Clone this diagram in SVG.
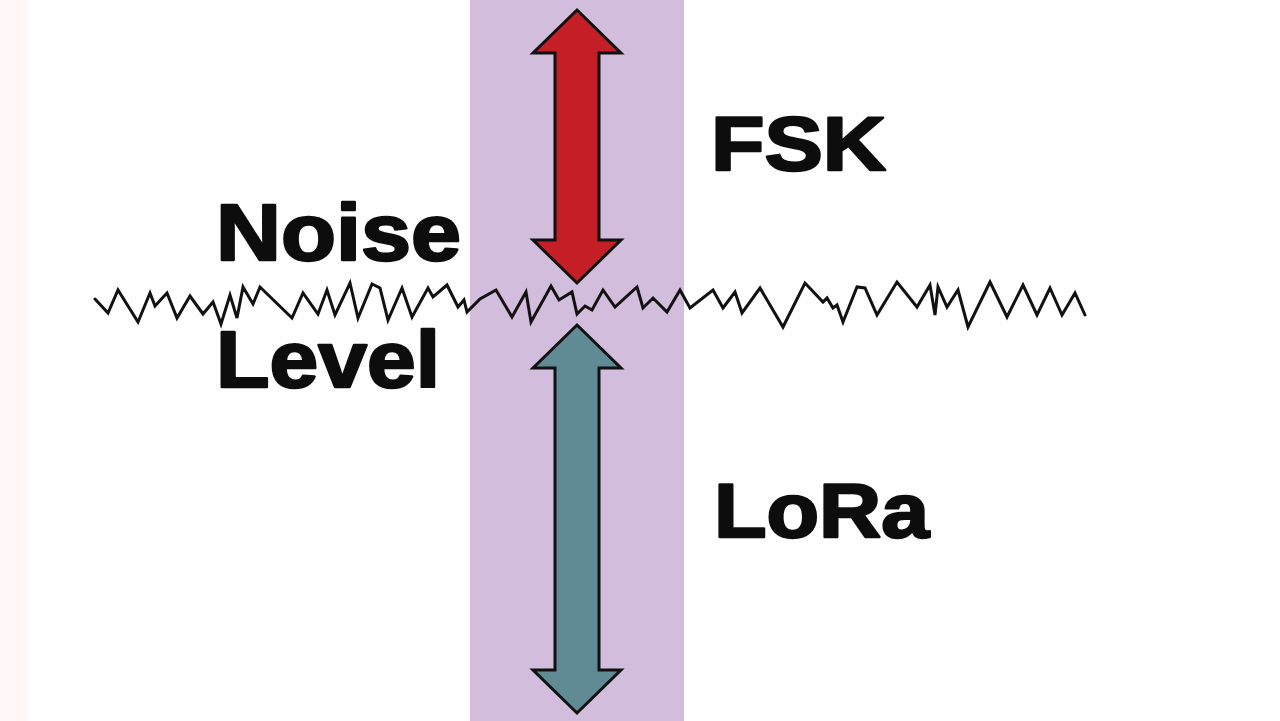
<svg xmlns="http://www.w3.org/2000/svg" width="1280" height="721" viewBox="0 0 1280 721">
  <style>
    .lbl { font-family: "Liberation Sans", Arial, sans-serif; font-weight: bold; fill: #0d0d0d; stroke: #0d0d0d; stroke-width: 2.4; stroke-linejoin: round; }
    .arrow { stroke: #111; stroke-width: 3; stroke-linejoin: miter; }
    .noise { fill: none; stroke: #111; stroke-width: 3; stroke-linejoin: miter; stroke-linecap: round; }
  </style>
  <rect x="0" y="0" width="1280" height="721" fill="#fefefe"/>
  <rect x="0" y="0" width="27" height="721" fill="#fff8f6"/>
  <g id="band">
    <rect x="470" y="0" width="214" height="721" fill="#d3bddc"/>
  </g>
  <g id="noise-line">
    <polyline class="noise" points="95,299 108,313 118,290 138,322 150,293 155,306 167,293 177,318 190,296 203,314 213,302 221,324 230,295 237,318 243,287 253,304 260,287 292,318 303,293 318,314 327,290 335,315 350,283 358,318 372,284 380,288 388,320 402,288 412,317 428,288 433,297 447,285 458,307 464,300 467,312 480,299 496,290 512,317 526,292 531,322 551,286 559,300 572,292 577,314 585,306 592,310 603,290 615,307 637,287 643,308 653,298 667,312 680,290 690,308 713,290 723,308 735,292 742,313 760,288 770,305 783,327 805,283 823,302 827,298 833,308 837,305 843,322 857,287 865,288 877,315 897,282 917,307 930,285 935,315 938,287 947,307 958,290 968,327 990,282 1007,317 1023,285 1037,315 1050,288 1062,315 1075,293 1085,315"/>
  </g>
  <g id="connectors">
    <polygon id="fsk-arrow" class="arrow" fill="#c41f26" points="577,10 621,53 599,53 599,240 621,240 577,283 533,240 555,240 555,53 533,53"/>
    <polygon id="lora-arrow" class="arrow" fill="#608b95" points="577,325 621,368 599,368 599,670 621,670 577,713 533,670 555,670 555,368 533,368"/>
  </g>
  <g id="noise-label">
    <text class="lbl" x="216" y="260" font-size="79" textLength="245" lengthAdjust="spacingAndGlyphs">Noise</text>
    <text class="lbl" x="216" y="387" font-size="79" textLength="224" lengthAdjust="spacingAndGlyphs">Level</text>
  </g>
  <g id="fsk-label">
    <text class="lbl" x="711" y="170" font-size="76" textLength="175" lengthAdjust="spacingAndGlyphs">FSK</text>
  </g>
  <g id="lora-label">
    <text class="lbl" x="714" y="537" font-size="76" textLength="215" lengthAdjust="spacingAndGlyphs">LoRa</text>
  </g>
</svg>
